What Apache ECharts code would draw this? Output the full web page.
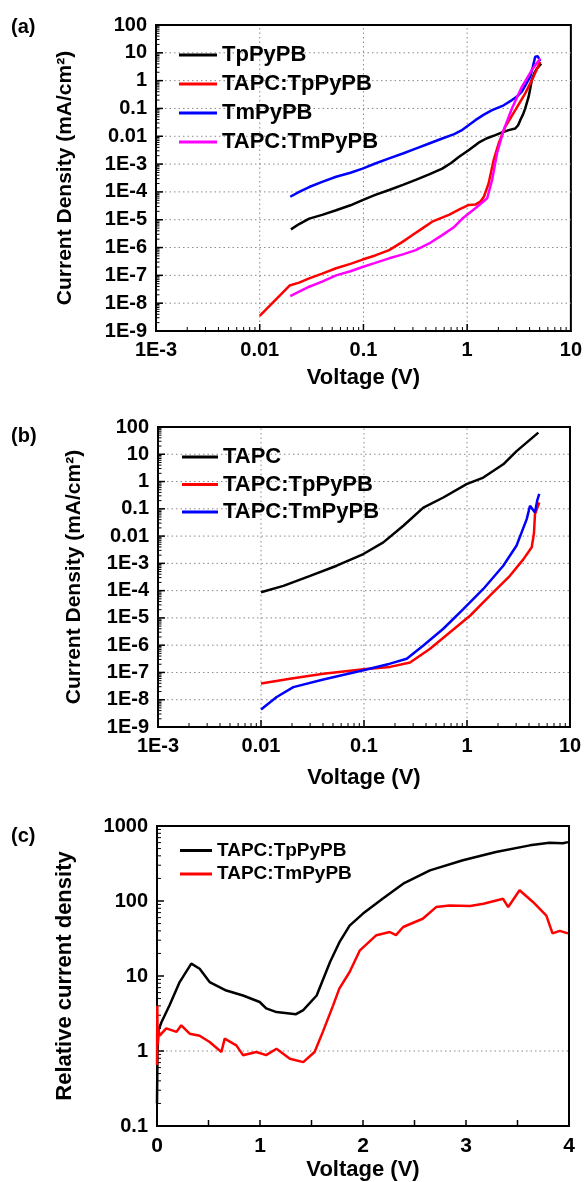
<!DOCTYPE html>
<html><head><meta charset="utf-8">
<script src="https://cdn.jsdelivr.net/npm/echarts@6/dist/echarts.min.js"></script>
<style>html,body{margin:0;padding:0;background:#fff}#c{width:585px;height:1182px}</style>
</head><body><div id="c"></div><script>
// ---------- data ----------
const xTickLabelsLog = ['1E-3', '0.01', '0.1', '1', '10'];
const xDecadesLog = [0.001, 0.01, 0.1, 1, 10];
const yTickLabelsJ = ['1E-9','1E-8','1E-7','1E-6','1E-5','1E-4','1E-3','0.01','0.1','1','10','100'];
const yDecadesJ = [1e-9, 1e-8, 1e-7, 1e-6, 1e-5, 1e-4, 1e-3, 0.01, 0.1, 1, 10, 100];
const yTickLabelsRel = ['0.1','1','10','100','1000'];
const yDecadesRel = [0.1, 1, 10, 100, 1000];
const xTickLabelsLin = ['0','1','2','3','4'];
const xMajorLin = [1, 2, 3];
const xMinorLin = [0.5, 1.5, 2.5, 3.5];
const logMinorFactors = [2, 3, 4, 5, 6, 7, 8, 9];

// panel (a)  [voltage (V), current density (mA/cm2)]
const aTpPyPB = [[0.020,4.5e-6],[0.024,7.0e-6],[0.030,1.1e-5],[0.040,1.5e-5],[0.0545,2.2e-5],[0.075,3.3e-5],[0.098,5.1e-5],[0.13,7.8e-5],[0.177,1.17e-4],[0.24,1.8e-4],[0.319,2.7e-4],[0.43,4.3e-4],[0.575,6.9e-4],[0.70,1.1e-3],[0.83,1.8e-3],[1.04,3.2e-3],[1.29,5.9e-3],[1.55,8.5e-3],[1.87,0.011],[2.2,0.014],[2.51,0.0166],[2.91,0.019],[3.1,0.025],[3.25,0.038],[3.45,0.06],[3.63,0.1],[3.91,0.26],[4.05,0.5],[4.2,1.05],[4.45,1.9],[4.7,2.7],[5.17,4.1]];
const aTAPC_TpPyPB = [[0.010,3.5e-9],[0.0194,4.3e-8],[0.024,5.5e-8],[0.030,7.8e-8],[0.040,1.15e-7],[0.0545,1.8e-7],[0.075,2.6e-7],[0.098,3.7e-7],[0.13,5.2e-7],[0.177,8.1e-7],[0.238,1.6e-6],[0.30,2.9e-6],[0.37,4.9e-6],[0.46,8.5e-6],[0.667,1.5e-5],[0.85,2.4e-5],[1.04,3.4e-5],[1.2,3.5e-5],[1.35,4.6e-5],[1.45,6.7e-5],[1.61,2.0e-4],[1.8,1.4e-3],[2.01,5.5e-3],[2.33,0.022],[2.91,0.087],[3.63,0.35],[4.36,1.37],[5.06,4.8]];
const aTmPyPB = [[0.0197,6.7e-5],[0.024,1.0e-4],[0.030,1.5e-4],[0.040,2.3e-4],[0.0545,3.5e-4],[0.075,4.9e-4],[0.098,6.9e-4],[0.13,1.05e-3],[0.177,1.6e-3],[0.24,2.4e-3],[0.319,3.6e-3],[0.43,5.5e-3],[0.575,8.3e-3],[0.75,1.2e-2],[0.9,0.017],[1.2,0.038],[1.45,0.06],[1.74,0.087],[2.25,0.13],[2.7,0.2],[3.0,0.26],[3.37,0.4],[3.7,0.75],[4.06,1.4],[4.3,3.2],[4.53,7.2],[4.8,7.5],[5.06,5.0]];
const aTAPC_TmPyPB = [[0.0197,1.8e-8],[0.024,2.6e-8],[0.030,3.9e-8],[0.040,6.0e-8],[0.0545,1.0e-7],[0.075,1.4e-7],[0.098,2.0e-7],[0.13,2.8e-7],[0.177,4.1e-7],[0.24,5.7e-7],[0.319,8.1e-7],[0.43,1.4e-6],[0.575,2.8e-6],[0.75,5.5e-6],[0.9,1.1e-5],[1.2,2.6e-5],[1.56,5.9e-5],[1.74,2.7e-4],[1.94,2.4e-3],[2.25,0.017],[2.7,0.1],[3.37,0.6],[4.2,2.4],[5.06,6.3]];

// panel (b)
const bTAPC = [[0.01,8.7e-5],[0.0165,1.5e-4],[0.030,3.5e-4],[0.0543,8.2e-4],[0.0986,2.2e-3],[0.154,5.9e-3],[0.241,0.024],[0.377,0.11],[0.589,0.26],[0.99,0.8],[1.44,1.4],[2.25,4.3],[3.03,13],[4.93,62]];
const bTAPC_TpPyPB = [[0.01,3.9e-8],[0.0191,5.9e-8],[0.0403,8.9e-8],[0.0986,1.3e-7],[0.179,1.6e-7],[0.28,2.3e-7],[0.438,7.4e-7],[0.684,3.0e-6],[1.07,1.2e-5],[1.67,6.6e-5],[2.61,3.5e-4],[3.52,1.4e-3],[4.25,3.9e-3],[4.47,0.013],[4.57,0.063],[5.03,0.17]];
const bTAPC_TmPyPB = [[0.01,4.4e-9],[0.0142,1.26e-8],[0.0206,2.9e-8],[0.0403,5.5e-8],[0.0986,1.2e-7],[0.179,2.1e-7],[0.26,3.2e-7],[0.377,9.8e-7],[0.589,4.0e-6],[0.92,2.1e-5],[1.44,1.15e-4],[2.25,8.2e-4],[3.03,4.5e-3],[3.8,0.042],[4.09,0.13],[4.57,0.074],[4.8,0.2],[5.03,0.35]];

// panel (c)  [voltage (V), relative current density]
const cTAPC_TpPyPB = [[0,0.2],[0.005,1.0],[0.015,1.9],[0.042,2.4],[0.123,4.1],[0.22,8.3],[0.333,14.6],[0.414,12.5],[0.511,8.3],[0.673,6.4],[0.835,5.5],[0.997,4.5],[1.06,3.7],[1.16,3.3],[1.35,3.1],[1.42,3.5],[1.55,5.5],[1.68,15.4],[1.77,28],[1.87,47],[2.0,68],[2.19,107],[2.39,170],[2.65,256],[2.97,349],[3.29,450],[3.62,552],[3.81,600],[3.94,590],[3.99,610]];
const cTAPC_TmPyPB = [[0,0.65],[0.003,4.0],[0.006,1.2],[0.012,2.0],[0.026,1.6],[0.09,2.0],[0.19,1.8],[0.236,2.2],[0.317,1.7],[0.414,1.6],[0.511,1.32],[0.625,0.97],[0.657,1.46],[0.77,1.19],[0.835,0.88],[0.964,0.97],[1.06,0.88],[1.16,1.07],[1.29,0.79],[1.42,0.71],[1.53,0.97],[1.61,1.8],[1.71,4.06],[1.77,6.8],[1.87,11.3],[1.97,22],[2.13,35],[2.26,38.6],[2.32,35],[2.39,45],[2.58,58],[2.71,83],[2.84,87],[3.04,86],[3.17,92],[3.36,107],[3.41,83],[3.52,139],[3.65,97],[3.78,64],[3.84,37],[3.91,40],[3.99,37]];
const cReferenceLevel = [1];

// ---------- helpers ----------
const FF = '"Liberation Sans", Arial, sans-serif';
const lbl = (sz) => ({ fontFamily: FF, fontWeight: 'bold', fontSize: sz, color: '#000' });
const expLabel = (arr, minExp) => (v) => { const e = Math.round(Math.log10(v)); return arr[e - minExp] ?? ''; };
const interior = (arr) => arr.slice(1, -1);
const minorsOf = (decades) => {
  const out = [];
  decades.slice(0, -1).forEach((d) => logMinorFactors.forEach((f) => out.push(Number((f * d).toPrecision(3)))));
  return out;
};

function logAxis(grid, min, max, labels, minExp, extra) {
  return Object.assign({
    type: 'log', logBase: 10, gridIndex: grid, min: min, max: max, interval: 1,
    axisLine: { show: true, onZero: false, lineStyle: { color: '#000', width: 2 } },
    axisTick: { show: false }, minorTick: { show: false }, splitLine: { show: false },
    axisLabel: Object.assign({ formatter: expLabel(labels, minExp), margin: 9, showMinLabel: true, showMaxLabel: true }, lbl(20))
  }, extra);
}
// one small custom series per gridline / inner tick, placed through the axes' own coordinate mapping
function markItem(idx, dir, v, xExt, yExt, opts) {
  return {
    type: 'custom', xAxisIndex: idx, yAxisIndex: idx, z: 1, silent: true, clip: false, animation: false,
    data: [dir === 'x' ? [v, yExt[0]] : [xExt[0], v]],
    encode: { x: 0, y: 1 },
    renderItem: (params, api) => {
      const v0 = api.value(0), v1 = api.value(1);
      const a = dir === 'x' ? api.coord([v0, yExt[0]]) : api.coord([xExt[0], v1]);
      const b = dir === 'x' ? api.coord([v0, yExt[1]]) : api.coord([xExt[1], v1]);
      const kids = [];
      if (opts.grid) kids.push({ type: 'line', shape: { x1: a[0], y1: a[1], x2: b[0], y2: b[1] },
        style: { stroke: '#8a8a8a', lineWidth: 1, lineDash: [1.5, 3] } });
      else kids.push({ type: 'line',
        shape: dir === 'x' ? { x1: a[0], y1: a[1], x2: a[0], y2: a[1] - opts.tick } : { x1: a[0], y1: a[1], x2: a[0] + opts.tick, y2: a[1] },
        style: { stroke: '#000', lineWidth: opts.w || 1.5 } });
      return { type: 'group', children: kids };
    }
  };
}
const frame = [];
const addMarks = (idx, dir, values, xExt, yExt, opts) => values.forEach((v) => frame.push(markItem(idx, dir, v, xExt, yExt, opts)));

function line(name, data, color, idx) {
  return { type: 'line', name: name, data: data, xAxisIndex: idx, yAxisIndex: idx,
    symbol: 'none', z: 3, lineStyle: { color: color, width: 2.5 }, itemStyle: { color: color } };
}
const legendBase = (top, left, names, sz, gap, w) => ({
  orient: 'vertical', left: left, top: top, itemWidth: w, itemHeight: 3, itemGap: gap, icon: 'rect',
  data: names, textStyle: lbl(sz), selectedMode: false
});
const gridBase = (l, t, w, h) => ({ left: l, top: t, width: w, height: h, show: true, borderColor: '#000', borderWidth: 2 });
const panelLabel = (txt, top) => ({ type: 'text', left: 11, top: top, style: { text: txt, font: 'bold 20px ' + FF, fill: '#000' } });
const yTitle = { name: 'Current Density (mA/cm²)', nameLocation: 'middle', nameRotate: 90, nameTextStyle: lbl(21) };
const xTitle = { name: 'Voltage (V)', nameLocation: 'middle', nameTextStyle: lbl(22) };

const extXLog = [0.001, 10], extYJ = [1e-9, 100], extXLin = [0, 4], extYRel = [0.1, 1000];
[0, 1].forEach((i) => {
  addMarks(i, 'x', interior(xDecadesLog), extXLog, extYJ, { grid: true });
  addMarks(i, 'y', interior(yDecadesJ), extXLog, extYJ, { grid: true });
  addMarks(i, 'x', interior(xDecadesLog), extXLog, extYJ, { tick: 7 });
  addMarks(i, 'x', minorsOf(xDecadesLog), extXLog, extYJ, { tick: 4, w: 1 });
  addMarks(i, 'y', interior(yDecadesJ), extXLog, extYJ, { tick: 7 });
  addMarks(i, 'y', minorsOf(yDecadesJ), extXLog, extYJ, { tick: 3.5, w: 1 });
});
addMarks(2, 'y', cReferenceLevel, extXLin, extYRel, { grid: true });
addMarks(2, 'x', xMajorLin, extXLin, extYRel, { tick: 6 });
addMarks(2, 'x', xMinorLin, extXLin, extYRel, { tick: 6 });
addMarks(2, 'y', interior(yDecadesRel), extXLin, extYRel, { tick: 7 });
addMarks(2, 'y', minorsOf(yDecadesRel), extXLin, extYRel, { tick: 4, w: 1 });

const option = {
  backgroundColor: '#fff',
  animation: false,
  grid: [ gridBase(156, 25, 417, 306), gridBase(158, 427, 412, 300), gridBase(157, 826, 412, 300) ],
  xAxis: [
    logAxis(0, 0.001, 10, xTickLabelsLog, -3, Object.assign({ nameGap: 36 }, xTitle)),
    logAxis(1, 0.001, 10, xTickLabelsLog, -3, Object.assign({ nameGap: 40 }, xTitle)),
    {
      type: 'value', gridIndex: 2, min: 0, max: 4, interval: 1,
      axisLine: { show: true, onZero: false, lineStyle: { color: '#000', width: 2 } },
      axisTick: { show: false }, minorTick: { show: false }, splitLine: { show: false },
      axisLabel: Object.assign({ formatter: (v) => xTickLabelsLin[Math.round(v)], margin: 10, showMinLabel: true, showMaxLabel: true }, lbl(21)),
      name: 'Voltage (V)', nameLocation: 'middle', nameGap: 33, nameTextStyle: lbl(22)
    }
  ],
  yAxis: [
    logAxis(0, 1e-9, 100, yTickLabelsJ, -9, Object.assign({ nameGap: 80 }, yTitle)),
    logAxis(1, 1e-9, 100, yTickLabelsJ, -9, Object.assign({ nameGap: 73 }, yTitle)),
    logAxis(2, 0.1, 1000, yTickLabelsRel, -1, {
      name: 'Relative current density', nameLocation: 'middle', nameRotate: 90, nameGap: 81, nameTextStyle: lbl(22)
    })
  ],
  legend: [
    legendBase(39, 174, ['TpPyPB', 'TAPC:TpPyPB', 'TmPyPB', 'TAPC:TmPyPB'], 22, 7, 38),
    legendBase(441, 177, ['TAPC', 'TAPC:TpPyPB ', 'TAPC:TmPyPB '], 22, 5.5, 36),
    legendBase(836, 175, ['TAPC:TpPyPB  ', 'TAPC:TmPyPB  '], 19, 4.5, 32)
  ],
  graphic: [ panelLabel('(a)', 17), panelLabel('(b)', 426), panelLabel('(c)', 826) ],
  series: frame.concat([
    line('TpPyPB', aTpPyPB, '#000000', 0),
    line('TAPC:TpPyPB', aTAPC_TpPyPB, '#ff0000', 0),
    line('TmPyPB', aTmPyPB, '#0000ff', 0),
    line('TAPC:TmPyPB', aTAPC_TmPyPB, '#ff00ff', 0),
    line('TAPC', bTAPC, '#000000', 1),
    line('TAPC:TpPyPB ', bTAPC_TpPyPB, '#ff0000', 1),
    line('TAPC:TmPyPB ', bTAPC_TmPyPB, '#0000ff', 1),
    line('TAPC:TpPyPB  ', cTAPC_TpPyPB, '#000000', 2),
    line('TAPC:TmPyPB  ', cTAPC_TmPyPB, '#ff0000', 2)
  ])
};
echarts.init(document.getElementById('c'), null, { renderer: 'canvas' }).setOption(option);
</script></body></html>
